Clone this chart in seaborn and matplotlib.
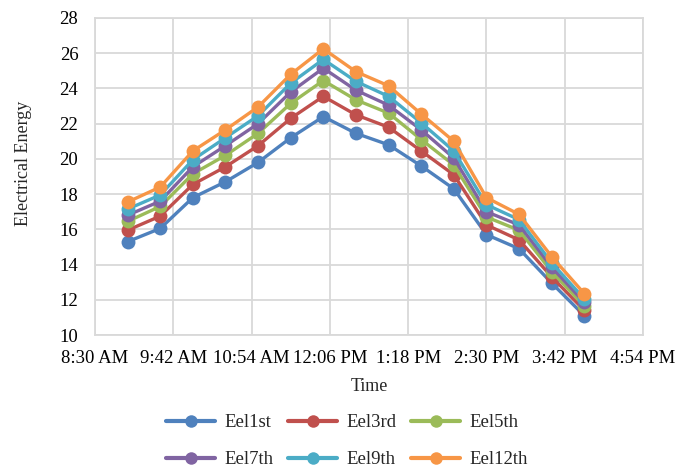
import matplotlib
matplotlib.use("Agg")
import matplotlib.pyplot as plt
from matplotlib.lines import Line2D
import numpy as np
import pandas as pd
import seaborn as sns

# Measurement times (every 30 minutes)
times = ["9:00", "9:30", "10:00", "10:30", "11:00", "11:30", "12:00", "12:30",
         "13:00", "13:30", "14:00", "14:30", "15:00", "15:30", "16:00"]

# Electrical energy per floor
eel1st = [15.3, 16.05, 17.8, 18.7, 19.8, 21.2, 22.4, 21.45, 20.8, 19.6, 18.3, 15.7, 14.9, 12.95, 11.1]
eel3rd = [15.95, 16.75, 18.55, 19.55, 20.75, 22.3, 23.55, 22.5, 21.8, 20.45, 19.1, 16.25, 15.4, 13.3, 11.4]
eel5th = [16.45, 17.3, 19.15, 20.2, 21.45, 23.15, 24.45, 23.35, 22.6, 21.1, 19.65, 16.7, 15.95, 13.6, 11.65]
eel7th = [16.8, 17.6, 19.55, 20.75, 22.0, 23.8, 25.15, 23.9, 23.05, 21.65, 20.05, 17.0, 16.25, 13.85, 11.85]
eel9th = [17.15, 17.95, 19.95, 21.2, 22.45, 24.3, 25.65, 24.4, 23.55, 22.05, 20.45, 17.4, 16.55, 14.1, 12.05]
eel12th = [17.55, 18.4, 20.45, 21.65, 22.95, 24.8, 26.25, 24.95, 24.15, 22.55, 21.0, 17.8, 16.85, 14.45, 12.35]

series_names = ["Eel1st", "Eel3rd", "Eel5th", "Eel7th", "Eel9th", "Eel12th"]
series_values = [eel1st, eel3rd, eel5th, eel7th, eel9th, eel12th]
colors = ["#4F81BD", "#C0504D", "#9BBB59", "#8064A2", "#4BACC6", "#F79646"]

# Axis ticks
x_tick_labels = ["8:30 AM", "9:42 AM", "10:54 AM", "12:06 PM", "1:18 PM", "2:30 PM", "3:42 PM", "4:54 PM"]
y_ticks = [10, 12, 14, 16, 18, 20, 22, 24, 26, 28]


def to_minutes(label):
    hm, *ampm = label.split()
    h, m = (int(v) for v in hm.split(":"))
    if ampm and ampm[0] == "PM" and h != 12:
        h += 12
    return h * 60 + m


minutes = [to_minutes(t) for t in times]
x_ticks = [to_minutes(t) for t in x_tick_labels]

df = pd.DataFrame({
    "Time": np.tile(minutes, len(series_names)),
    "Electrical Energy": np.concatenate(series_values),
    "Series": np.repeat(series_names, len(times)),
})

sns.set_style("whitegrid")
plt.rcParams["font.family"] = ["Liberation Serif", "DejaVu Serif"]

fig = plt.figure(figsize=(6.94, 4.68), dpi=100)
ax = fig.add_axes([95 / 694, 1 - 335 / 468, 548 / 694, 317 / 468])

sns.lineplot(data=df, x="Time", y="Electrical Energy", hue="Series",
             hue_order=series_names, palette=colors, marker="o",
             markersize=10, markeredgewidth=0, linewidth=2.4,
             legend=False, ax=ax)

ax.set_xlim(x_ticks[0], x_ticks[-1])
ax.set_xticks(x_ticks)
ax.set_xticklabels(x_tick_labels)
ax.set_ylim(y_ticks[0], y_ticks[-1])
ax.set_yticks(y_ticks)

ax.grid(True, color="#D9D9D9", linewidth=1.3)
for side in ax.spines.values():
    side.set_color("#D9D9D9")
    side.set_linewidth(1.3)
ax.tick_params(axis="both", length=0, labelsize=13.5, colors="black")
ax.tick_params(axis="x", pad=11)
ax.tick_params(axis="y", pad=12)

ax.set_xlabel("Time", fontsize=13)
ax.set_ylabel("Electrical Energy", fontsize=13)
ax.xaxis.set_label_coords(0.5, -0.135)
ax.yaxis.set_label_coords(-0.115, 0.54)

# Legend laid out row by row: 1st, 3rd, 5th on top; 7th, 9th, 12th below
order = [0, 3, 1, 4, 2, 5]
handles = [Line2D([], [], color=colors[i], linewidth=3, marker="o", markersize=9,
                  markeredgewidth=0) for i in order]
labels = [series_names[i] for i in order]
fig.legend(handles, labels, loc="center", bbox_to_anchor=(0.5, 0.057),
           ncol=3, frameon=False, fontsize=13.5, handlelength=2.6,
           handletextpad=0.5, columnspacing=0.8, labelspacing=1.05)

fig.savefig("out.png", dpi=100)
